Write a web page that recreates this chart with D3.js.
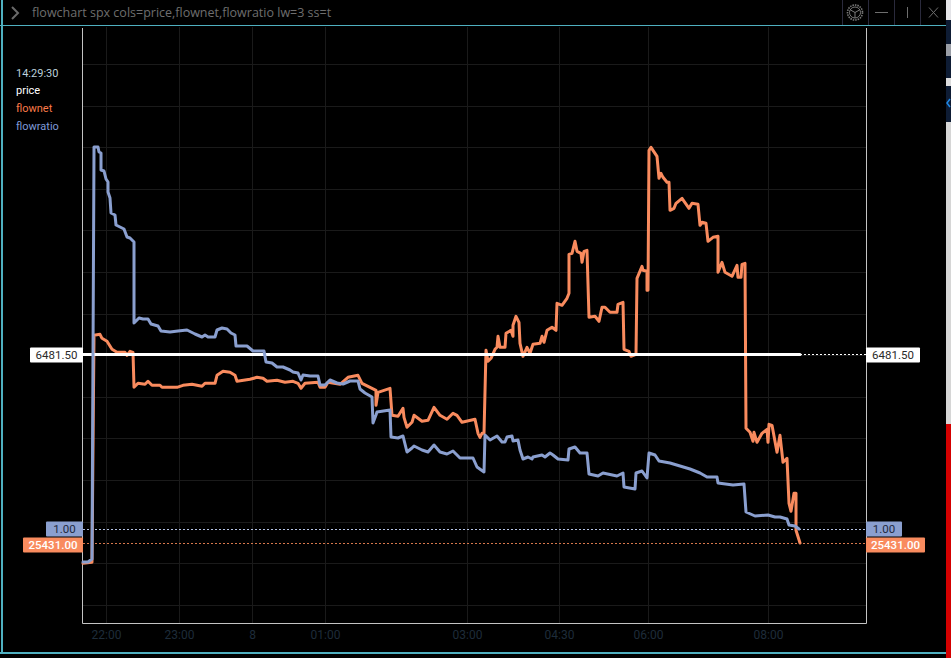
<!DOCTYPE html>
<html>
<head>
<meta charset="utf-8">
<style>
html,body{margin:0;padding:0;background:#000;overflow:hidden}
svg{display:block}
text{font-family:Roboto,"Open Sans",sans-serif}
text.title{font-family:"Open Sans","Noto Sans",sans-serif}
</style>
<script src="https://cdn.jsdelivr.net/npm/d3@7/dist/d3.min.js"></script>
</head>
<body>
<svg id="c" width="951" height="658"></svg>
<script>
// ---- data (x = bar number along the session) ----
const titleText = "flowchart spx cols=price,flownet,flowratio lw=3 ss=t";
const legendTime = "14:29:30";
const seriesNames = ["price", "flownet", "flowratio"];
const tickBars = [23, 96, 169, 242, 384, 476, 565, 685];
const tickLabels = ["22:00", "23:00", "8", "01:00", "03:00", "04:30", "06:00", "08:00"];

const priceBars = [0, 717];
const priceValues = [6481.5, 6481.5];

const ratioBars = [0,5,9,11,11,15,16,18,18,21,23,25,25,27,28,32,33,37,41,44,47,51,51,54,56,60,65,68,75,78,87,95,104,112,119,122,125,132,134,139,144,148,152,153,164,170,181,183,189,194,200,207,210,215,218,220,227,235,237,242,247,254,260,267,275,277,282,289,290,293,294,307,308,315,320,324,329,331,339,345,351,357,364,370,377,390,394,401,402,407,414,419,422,424,429,430,435,437,440,445,449,450,459,462,467,470,475,485,486,492,497,504,506,515,520,534,540,541,552,553,559,564,566,572,576,587,597,607,617,624,634,635,650,661,663,672,685,692,697,704,706,712,716];
const ratioValues = [0.67,0.67,0.70,4.79,4.82,4.82,4.77,4.76,4.59,4.58,4.50,4.47,4.37,4.31,4.16,4.14,4.04,4.02,4.00,3.92,3.91,3.87,3.06,3.09,3.11,3.10,3.10,3.05,3.03,2.98,2.97,2.98,2.99,2.95,2.92,2.94,2.92,2.92,2.99,3.01,3.00,2.96,2.94,2.83,2.83,2.78,2.78,2.67,2.66,2.62,2.62,2.59,2.57,2.56,2.49,2.54,2.53,2.53,2.44,2.44,2.49,2.46,2.45,2.48,2.48,2.40,2.36,2.32,2.06,2.14,2.17,2.19,1.92,1.91,1.93,1.77,1.81,1.83,1.79,1.77,1.84,1.77,1.75,1.78,1.71,1.71,1.62,1.57,1.94,1.89,1.93,1.87,1.87,1.92,1.93,1.88,1.89,1.79,1.70,1.72,1.70,1.72,1.74,1.72,1.76,1.74,1.70,1.69,1.80,1.82,1.76,1.76,1.55,1.53,1.56,1.53,1.56,1.42,1.40,1.56,1.58,1.51,1.76,1.74,1.68,1.66,1.63,1.60,1.56,1.52,1.52,1.46,1.44,1.45,1.17,1.13,1.14,1.12,1.12,1.10,1.04,1.03,1.00];

const netBars = [0,9,11,17,19,24,29,34,42,44,47,50,51,55,62,65,69,77,79,94,100,109,119,122,132,134,140,147,152,154,167,174,180,184,194,202,210,215,218,222,235,237,242,245,257,265,275,279,289,293,293,295,307,309,315,320,321,324,329,331,339,345,351,357,364,370,374,379,392,395,397,399,401,403,405,408,412,414,415,417,422,423,428,430,430,433,436,437,440,444,447,450,457,459,461,464,469,473,474,479,484,486,486,489,492,494,498,499,501,504,506,512,516,519,522,527,534,535,540,541,546,548,553,554,559,560,564,564,565,566,568,574,576,578,580,584,586,587,591,593,599,606,609,615,617,619,623,625,630,635,635,639,642,649,654,655,658,659,662,663,667,670,671,674,679,684,685,686,689,694,697,700,704,706,708,711,713,713,717];
const netValues = [23400,23500,46200,46300,45900,45600,44800,44500,44500,44200,44600,44500,41000,41400,41300,41600,41200,41200,41000,41000,41200,41300,41100,41400,41400,42200,42600,42500,42200,41600,41800,42000,41900,41600,41700,41500,41600,41400,40900,41400,41500,41000,41000,41500,41300,42000,42200,41400,40900,40700,39200,40500,40900,38200,38100,38900,38000,37000,37500,38200,37600,37700,39000,38200,37800,38400,38200,37500,37800,36400,36000,36400,36400,44700,43600,43900,44800,45000,46100,45000,45000,46400,46700,46100,47200,48100,47500,45400,44100,45000,44400,45300,45400,46100,45500,46700,47000,46700,49400,49200,49900,50400,54300,54400,55600,54600,54400,53500,54600,54700,48000,48100,47600,49000,49000,48500,48500,49300,49500,44800,44600,44100,44300,51900,53100,52700,52600,50700,50700,64700,65000,64100,61900,62400,62000,61500,61500,58700,58900,59400,59900,58900,59400,59300,57200,57500,57400,55600,56000,56100,52500,53500,52500,52100,53200,52000,52000,53300,53400,36900,36500,35600,36500,35500,36400,36800,35500,37300,37200,34500,36200,33500,33900,29400,28600,30400,30400,26700,25431];

// ---- layout and styles ----
const W = 951, H = 658;
const plot = {left: 83, right: 866, top: 27, bottom: 623};
const white = "#ffffff", orange = "#f98b5e", blue = "#8a9fcf", teal = "#4fb0c0";
const svg = d3.select("#c");

svg.append("rect").attr("width", W).attr("height", H).attr("fill", "#000");

// scales: every series has its own vertical axis
const x = d3.scaleLinear().domain([0, 783]).range([plot.left, plot.right]);
const yNet = d3.scaleLinear().domain([25431, 65000]).range([543, 147.31]);
const yRatio = d3.scaleLinear().domain([1, 4.82]).range([529, 147]);
const yPrice = d3.scaleLinear().domain([6481.5, 6581.5]).range([354.5, 254.5]);
const yGrid = d3.scaleLinear().domain([0, 13]).range([64, 604.8]);

// grid
const gridG = svg.append("g").attr("stroke", "#1a1a1a").attr("stroke-width", 1);
gridG.selectAll("line.h").data(d3.range(0, 14)).join("line").attr("class", "h")
  .attr("x1", plot.left).attr("x2", plot.right)
  .attr("y1", d => Math.round(yGrid(d)) + 0.5).attr("y2", d => Math.round(yGrid(d)) + 0.5);
gridG.selectAll("line.v").data(tickBars).join("line").attr("class", "v")
  .attr("y1", plot.top).attr("y2", plot.bottom)
  .attr("x1", d => Math.round(x(d)) + 0.5).attr("x2", d => Math.round(x(d)) + 0.5);

// x axis
const axisG = svg.append("g").attr("transform", `translate(0,${plot.bottom})`)
  .call(d3.axisBottom(x).tickValues(tickBars).tickSize(0).tickPadding(7)
    .tickFormat((d, i) => tickLabels[i]));
axisG.select(".domain").remove();
axisG.selectAll("text").attr("fill", "#1e2c3a").attr("font-size", 12).style("font-family", "Roboto");

// frame
svg.append("path").attr("fill", "none").attr("stroke", "#c4c4c4").attr("stroke-width", 1)
  .attr("d", `M${plot.left - 0.5},${plot.top + 1}V${plot.bottom + 0.5}H${plot.right + 0.5}V${plot.top + 1}`);

// dotted last-value lines
const lastLine = (yv, color, x1, x2) => svg.append("line")
  .attr("x1", x1).attr("x2", x2).attr("y1", Math.floor(yv) + 0.5).attr("y2", Math.floor(yv) + 0.5)
  .attr("stroke", color).attr("stroke-width", 1).attr("stroke-dasharray", "2,2");
lastLine(yRatio(ratioValues[ratioValues.length - 1]), "#b4c2e4", plot.left, plot.right);
lastLine(yNet(netValues[netValues.length - 1]), "#d8784c", plot.left, plot.right);
lastLine(yPrice(priceValues[1]), "#ffffff", x(priceBars[1]), plot.right);

// series
const seriesLine = (bars, values, yScale, color) => {
  const line = d3.line().x((d, i) => x(bars[i])).y(d => yScale(d)).curve(d3.curveLinear);
  svg.append("path").datum(values).attr("d", line).attr("fill", "none")
    .attr("stroke", color).attr("stroke-width", 3)
    .attr("stroke-linejoin", "round").attr("stroke-linecap", "round");
};
seriesLine(netBars, netValues, yNet, orange);
seriesLine(priceBars, priceValues, yPrice, white);
seriesLine(ratioBars, ratioValues, yRatio, blue);

// axis value tags
const tag = (label, yc, fill, textFill, leftW, rightW, weight) => {
  const g = svg.append("g").attr("font-size", 11.5).attr("font-weight", weight);
  [[plot.left - leftW, leftW], [plot.right, rightW]].forEach(([tx, tw]) => {
    g.append("rect").attr("x", tx).attr("y", yc - 7.5).attr("width", tw).attr("height", 15)
      .attr("rx", 1).attr("fill", fill);
    g.append("text").attr("x", tx + tw / 2).attr("y", yc + 4).attr("text-anchor", "middle")
      .attr("fill", textFill).text(label);
  });
};
tag(priceValues[1].toFixed(2), 355, "#ffffff", "#2a2a2a", 53, 54, 400);
tag(ratioValues[ratioValues.length - 1].toFixed(2), 529, blue, "#1f2a40", 37, 36, 400);
tag(netValues[netValues.length - 1].toFixed(2), 545, orange, "#ffffff", 60, 59, 500);

// legend
const legendColors = [white, "#fa7a48", "#7f9ad8"];
svg.append("text").attr("x", 16).attr("y", 77).attr("font-size", 11).attr("fill", "#bcd0dc").text(legendTime);
seriesNames.forEach((n, i) => {
  svg.append("text").attr("x", 16).attr("y", 94 + i * 18).attr("font-size", 11)
    .attr("fill", legendColors[i]).text(n);
});

// window chrome
svg.append("rect").attr("x", 0).attr("y", 25).attr("width", 946).attr("height", 1).attr("fill", teal);
svg.append("rect").attr("x", 1).attr("y", 0).attr("width", 2).attr("height", 653).attr("fill", teal);
svg.append("rect").attr("x", 0).attr("y", 652).attr("width", 946).attr("height", 2).attr("fill", teal);
svg.append("path").attr("d", "M12,7L18,13L12,19").attr("fill", "none").attr("stroke", "#6a6a6a").attr("stroke-width", 2);
svg.append("text").attr("class", "title").attr("x", 32).attr("y", 17).attr("font-size", 12.5).attr("fill", "#6e6e6e").text(titleText);
[842.5, 868.5, 894.5, 920.5].forEach(v => svg.append("line").attr("x1", v).attr("x2", v)
  .attr("y1", 0).attr("y2", 25).attr("stroke", "#2a2a3c"));
const gear = svg.append("g").attr("transform", "translate(855,12.5)").attr("fill", "none").attr("stroke", "#7a7a7a");
gear.append("circle").attr("r", 7.5).attr("stroke-width", 1.6).attr("stroke-dasharray", "1.5,1");
gear.append("circle").attr("r", 5.5).attr("stroke-width", 1);
gear.append("path").attr("d", "M0,0L4.8,-2.7M0,0L-4.8,-2.7M0,0L0,5.5").attr("stroke-width", 1);
svg.append("path").attr("d", "M875,12.5H888").attr("stroke", "#6e6e6e").attr("stroke-width", 1);
svg.append("path").attr("d", "M907.5,7V18").attr("stroke", "#6e6e6e").attr("stroke-width", 1);
svg.append("path").attr("d", "M929,7.5L938,17.5M938,7.5L929,17.5").attr("stroke", "#6e6e6e").attr("stroke-width", 1);

// neighbouring window sliver at the right edge
const sliver = svg.append("g");
[[0, 20, "#e4e4e8"], [20, 24, "#0e1c34"], [44, 12, "#9a9ea6"], [56, 22, "#0e1c34"], [78, 8, "#dcdcdc"],
 [86, 36, "#0e1c34"], [122, 302, "#d6d6d6"], [424, 234, "#d40000"]].forEach(([sy, sh, col]) => {
  sliver.append("rect").attr("x", 946).attr("y", sy).attr("width", 5).attr("height", sh).attr("fill", col);
});
sliver.append("path").attr("d", "M950,99L947,103L950,107").attr("fill", "none").attr("stroke", "#1e88e5").attr("stroke-width", 1.5);
</script>
</body>
</html>
